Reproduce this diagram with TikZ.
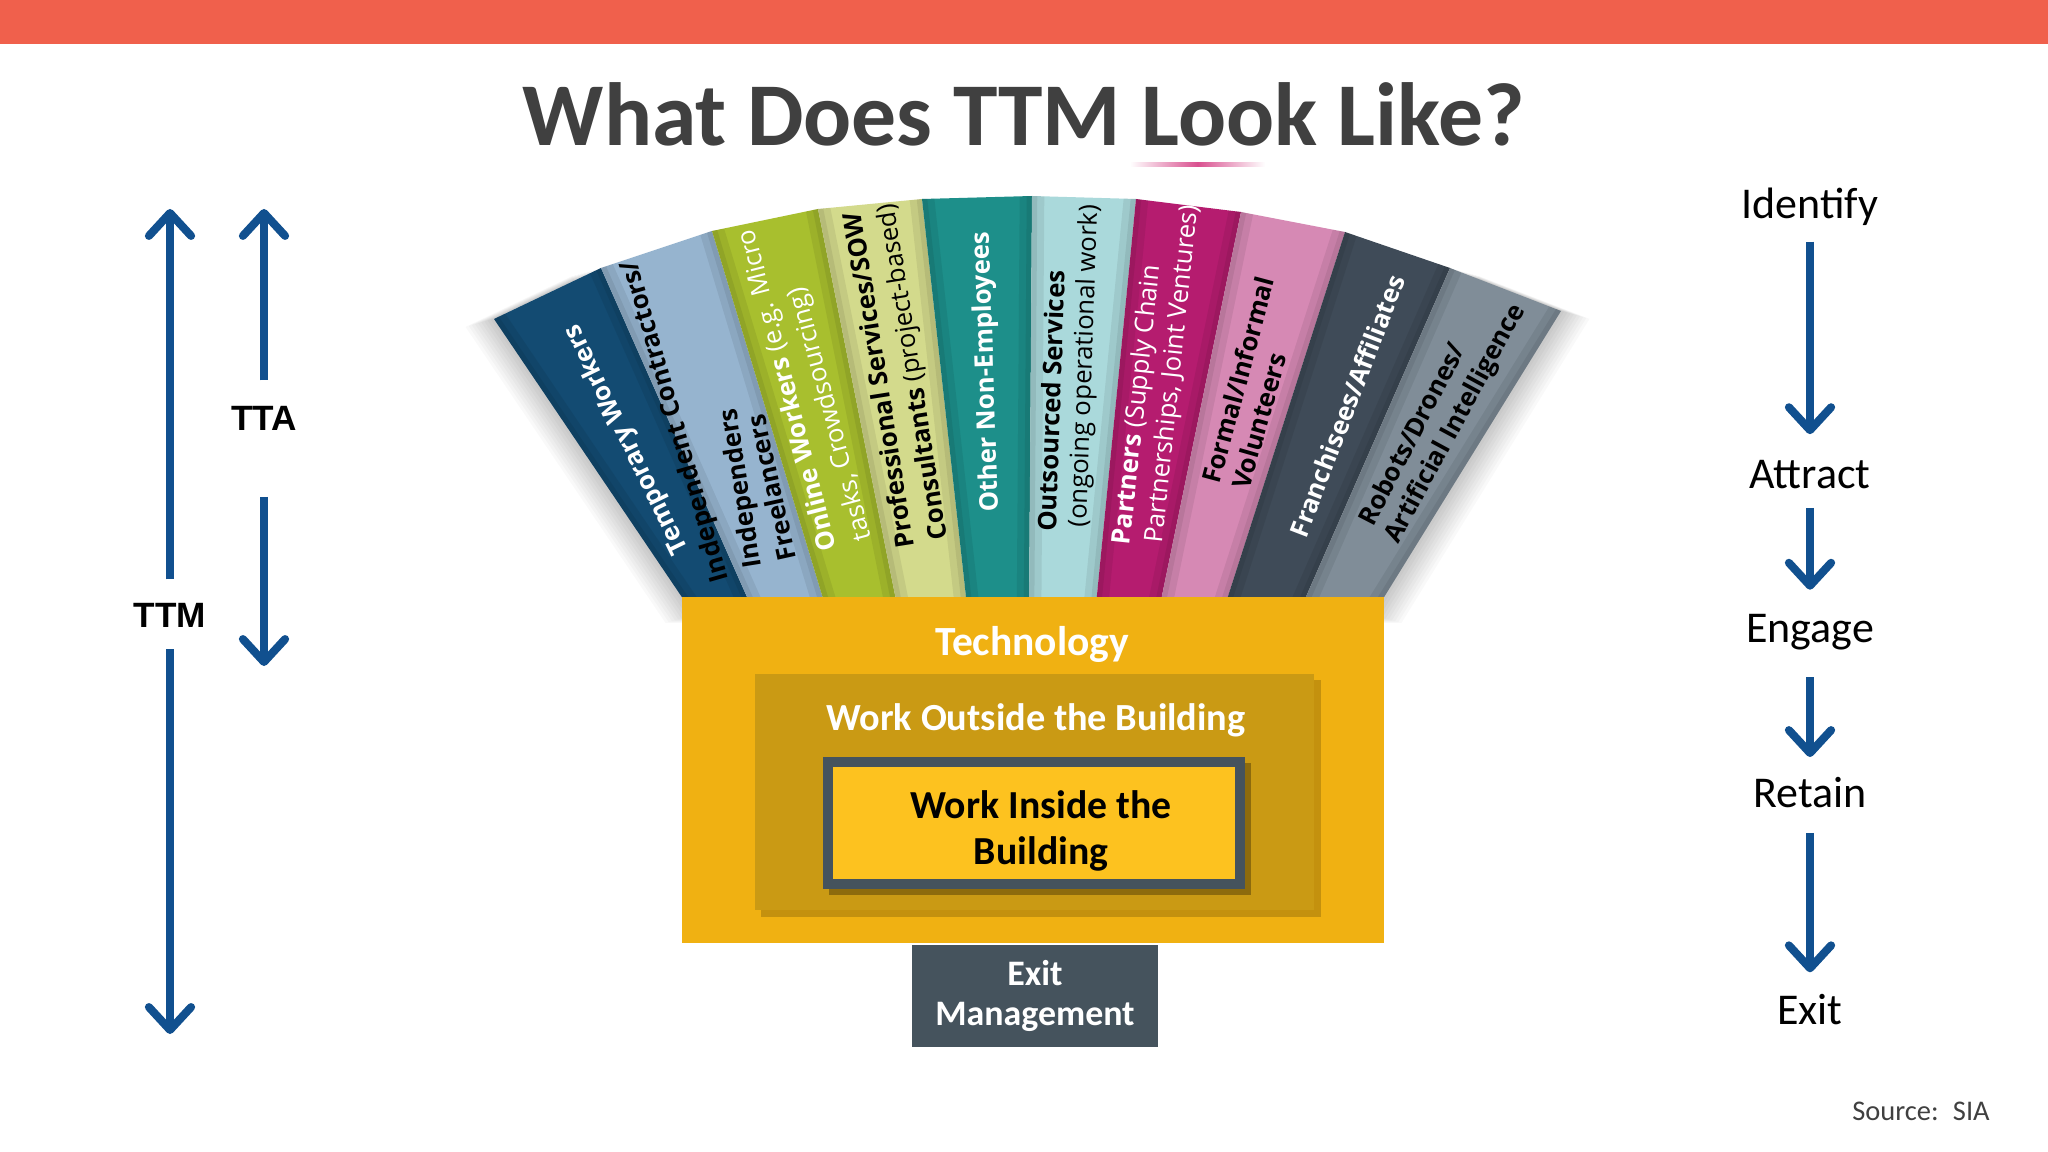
\documentclass[tikz,border=0pt]{standalone}
\usepackage{fontspec}
\setmainfont{Carlito}
\newfontfamily\osans{Open Sans}
\newfontfamily\arialf{Liberation Sans}
\usetikzlibrary{arrows.meta}
\definecolor{redbar}{HTML}{F0604C}
\definecolor{titlegray}{HTML}{404040}
\definecolor{arrowblue}{HTML}{11508F}
\definecolor{cnavy}{HTML}{134B72}
\definecolor{csteel}{HTML}{96B4CF}
\definecolor{cyg}{HTML}{A8BF2E}
\definecolor{cpale}{HTML}{D3DA8C}
\definecolor{cteal}{HTML}{1D8F8A}
\definecolor{ccyan}{HTML}{AAD9DB}
\definecolor{cmag}{HTML}{B51C6F}
\definecolor{cpink}{HTML}{D689B4}
\definecolor{cslate}{HTML}{3F4B58}
\definecolor{cgray}{HTML}{808D98}
\definecolor{techgold}{HTML}{F0B112}
\definecolor{outgold}{HTML}{CA9A14}
\definecolor{inyellow}{HTML}{FDC21F}
\definecolor{boxslate}{HTML}{45535D}
\definecolor{pinkline}{HTML}{D9508F}

\newcommand{\fanstrip}[9]{%
  \fill[#1] (#2,#3) -- (#4,#5) -- (#6,#7) -- (#8,#9) -- cycle;
  \begin{scope}
    \clip (#2,#3) -- (#4,#5) -- (#6,#7) -- (#8,#9) -- cycle;
    \draw[black,opacity=0.07,line width=7pt] (#2,#3) -- (#8,#9) (#4,#5) -- (#6,#7);
    \draw[black,opacity=0.07,line width=3pt] (#2,#3) -- (#8,#9) (#4,#5) -- (#6,#7);
  \end{scope}}

\begin{document}
\begin{tikzpicture}[x=0.01cm,y=-0.01cm,
  fanlbl/.style={font=\osans\fontsize{7.3}{8.6}\selectfont, inner sep=0pt},
  fw/.style={fanlbl,text=white},
  fb/.style={fanlbl,text=black},
  barrow/.style={draw=arrowblue, line width=2.3pt, -{Straight Barb[length=6.5pt,width=12pt,round]}},
  tlabel/.style={font=\arialf\bfseries\fontsize{10}{12}\selectfont, inner sep=0pt, text height=7.2pt, text depth=0pt},
  rlabel/.style={font=\fontsize{12.5}{15}\selectfont, inner sep=0pt, text height=8.05pt, text depth=0pt, text=black},
  boxtext/.style={font=\bfseries\fontsize{10.9}{13}\selectfont, inner sep=0pt}
]
\useasboundingbox (0,0) rectangle (2048,1152);
\fill[white] (0,0) rectangle (2048,1152);
\fill[redbar] (0,0) rectangle (2048,44);

% title
\node[anchor=base, text=titlegray, inner sep=0pt, font=\bfseries\fontsize{25.5}{30}\selectfont] (title) at (1024,146) {What Does TTM Look Like?};
\shade[left color=white, right color=white, middle color=pinkline] (1130,163) rectangle (1265,167);

% fan shadows
\foreach \k in {1,...,9}{
  \fill[black,opacity=0.022,xshift={-\k*0.9pt},yshift={-\k*0.25pt}] (494,319) -- (601,268) -- (755,615) -- (694,615) -- cycle;
  \fill[black,opacity=0.022,xshift={\k*0.9pt},yshift={-\k*0.25pt}] (1450,268) -- (1561,311) -- (1373,615) -- (1298,615) -- cycle;
}

% fan strips
\fanstrip{cnavy}{494}{319}{601}{268}{755}{615}{694}{615}
\fanstrip{csteel}{601}{268}{712}{231}{828}{615}{755}{615}
\fanstrip{cyg}{712}{231}{818}{209}{899}{615}{828}{615}
\fanstrip{cpale}{818}{209}{922}{199}{968}{615}{899}{615}
\fanstrip{cteal}{922}{199}{1032}{196}{1029}{615}{968}{615}
\fanstrip{ccyan}{1032}{196}{1136}{199}{1095}{615}{1029}{615}
\fanstrip{cmag}{1136}{199}{1241}{212}{1158}{615}{1095}{615}
\fanstrip{cpink}{1241}{212}{1345}{232}{1222}{615}{1158}{615}
\fanstrip{cslate}{1345}{232}{1450}{268}{1298}{615}{1222}{615}
\fanstrip{cgray}{1450}{268}{1561}{311}{1373}{615}{1298}{615}

% fan labels
\node[fw, rotate=116] (f1) at (627,439) {\bfseries Temporary Workers};
\node[fb, rotate=106] (f2a) at (676,421) {\bfseries Independent Contractors/};
\node[fb, rotate=99] (f2b) at (742,488) {\bfseries Independers};
\node[fb, rotate=102.5] (f2c) at (771,488) {\bfseries Freelancers};
\node[fw, rotate=104.5] (f3a) at (789,390) {{\bfseries Online Workers} (e.g. Micro};
\node[fw, rotate=105] (f3b) at (831,414) {tasks, Crowdsourcing)};
\node[fb, rotate=99] (f4a) at (878,381) {\bfseries Professional Services/SOW};
\node[fb, rotate=99] (f4b) at (914,372) {{\bfseries Consultants} (project-based)};
\node[fw, rotate=92] (f5) at (987,372) {\bfseries Other Non-Employees};
\node[fb, rotate=88] (f6a) at (1051,401) {\bfseries Outsourced Services};
\node[fb, rotate=88] (f6b) at (1085,366) {(ongoing operational work)};
\node[fw, rotate=84] (f7a) at (1138,405) {{\bfseries Partners} (Supply Chain};
\node[fw, rotate=84] (f7b) at (1173,374) {Partnerships, Joint Ventures)};
\node[fb, rotate=75] (f8a) at (1238,380) {\bfseries Formal/Informal};
\node[fb, rotate=74] (f8b) at (1259,421) {\bfseries Volunteers};
\node[fw, rotate=69] (f9) at (1347,406) {\bfseries Franchisees/Affiliates};
\node[fb, rotate=62.6] (f10a) at (1411,434) {\bfseries Robots/Drones/};
\node[fb, rotate=61.6] (f10b) at (1456,424) {\bfseries Artificial Intelligence};

% nested boxes
\node[fill=techgold, minimum width=7.02cm, minimum height=3.46cm, inner sep=0pt] (tech) at (1033,770) {};
\fill[black,opacity=0.18] (761,680) rectangle (1321,917);
\node[fill=outgold, minimum width=5.59cm, minimum height=2.36cm, inner sep=0pt] (wout) at (1034.5,792) {};
\fill[black,opacity=0.3] (829,763) rectangle (1251,895);
\node[draw=boxslate, line width=2.85pt, fill=inyellow, minimum width=4.12cm, minimum height=1.22cm, inner sep=0pt] (win) at (1034,823) {};
\node[boxtext, text=white, anchor=base, font=\bfseries\fontsize{11.8}{13}\selectfont] (techlbl) at (1032,656) {Technology};
\node[boxtext, text=white, anchor=base] (woutlbl) at (1036,730) {Work Outside the Building};
\node[boxtext, text=black, align=center, font=\bfseries\fontsize{11.3}{13}\selectfont] (winlbl) at (1041,831) {Work Inside the\\Building};
\node[fill=boxslate, minimum width=2.46cm, minimum height=1.02cm, inner sep=0pt, text=white, align=center, font=\bfseries\fontsize{10.2}{11.4}\selectfont] (exitm) at (1035,996) {Exit\\Management};

% left arrows
\node[tlabel] (ttm) at (170,615) {TTM};
\node[tlabel] (tta) at (264,418) {TTA};
\coordinate (ttmtop) at (170,209);
\coordinate (ttmbot) at (170,1034);
\coordinate (ttatop) at (264,209);
\coordinate (ttabot) at (264,666);
\draw[barrow, shorten <=6.3pt] (ttm.north) -- (ttmtop);
\draw[barrow, shorten <=6pt] (ttm.south) -- (ttmbot);
\draw[barrow, shorten <=6.9pt] (tta.north) -- (ttatop);
\draw[barrow, shorten <=18.6pt] (tta.south) -- (ttabot);

% right column
\node[rlabel] (identify) at (1810,204) {Identify};
\node[rlabel] (attract) at (1810,474) {Attract};
\node[rlabel] (engage) at (1810,628.5) {Engage};
\node[rlabel] (retain) at (1810,793) {Retain};
\node[rlabel] (exitl) at (1810,1010) {Exit};
\draw[barrow, shorten <=6.5pt, shorten >=7.1pt] (identify.south) -- (attract.north);
\draw[barrow, shorten <=5.4pt, shorten >=6.8pt] (attract.south) -- (engage.north);
\draw[barrow, shorten <=9.7pt, shorten >=6pt] (engage.south) -- (retain.north);
\draw[barrow, shorten <=7.1pt, shorten >=6.5pt] (retain.south) -- (exitl.north);

\node[anchor=base, inner sep=0pt, text=titlegray, font=\fontsize{8.1}{10}\selectfont] (src) at (1921,1120) {Source:\enspace SIA};
\end{tikzpicture}
\end{document}
